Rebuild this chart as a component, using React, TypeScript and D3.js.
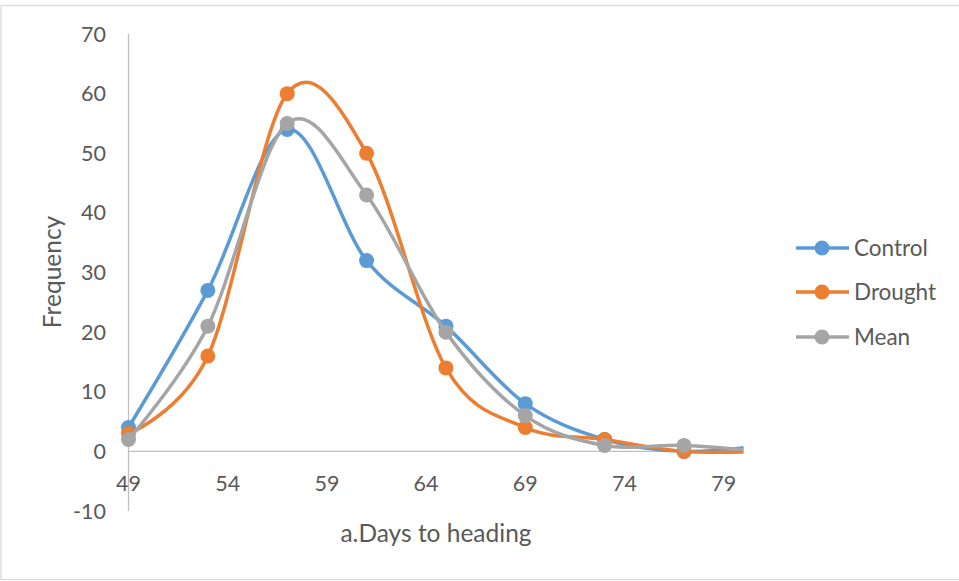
import React from "react";
import * as d3 from "d3";

// Days to heading (class midpoints) and frequencies per treatment
const days = [49, 53, 57, 61, 65, 69, 73, 77, 81];
const control = [4, 27, 54, 32, 21, 8, 2, 0, 1];
const drought = [3, 16, 60, 50, 14, 4, 2, 0, 0];
const mean = [2, 21, 55, 43, 20, 6, 1, 1, 0];

const xTicks = [49, 54, 59, 64, 69, 74, 79];
const yTicks = [-10, 0, 10, 20, 30, 40, 50, 60, 70];

const seriesNames = ["Control", "Drought", "Mean"];
const seriesColors = ["#5B9BD5", "#ED7D31", "#A5A5A5"];

const W = 959;
const H = 581;
const FONT = "Lato, 'Open Sans', sans-serif";
const TEXT = "#595959";

export default function App() {
  const x = d3.scaleLinear().domain([49, 80]).range([128.5, 743.5]);
  const y = d3.scaleLinear().domain([-10, 70]).range([511, 34]);

  const line = d3
    .line<[number, number]>()
    .x((d) => x(d[0]))
    .y((d) => y(d[1]))
    .curve(d3.curveCardinal.tension(0));

  const series = [control, drought, mean].map((vals, i) => ({
    name: seriesNames[i],
    color: seriesColors[i],
    pts: days.map((d, j) => [d, vals[j]] as [number, number]),
  }));

  const legendY = [248, 292, 337];

  return (
    <svg
      width={W}
      height={H}
      style={{ position: "absolute", left: 0, top: 0, background: "#fff" }}
      fontFamily={FONT}
    >
      <defs>
        <clipPath id="plot-clip">
          <rect x={x(49) - 10} y={0} width={x(80) - x(49) + 10} height={H} />
        </clipPath>
      </defs>
      <rect x={1} y={5.5} width={W + 5} height={574} fill="#fff" stroke="#D9D9D9" strokeWidth={1.3} />

      {/* axes */}
      <line x1={x(49)} x2={x(49)} y1={y(70)} y2={y(-10)} stroke="#BFBFBF" strokeWidth={1.3} />
      <line x1={x(49)} x2={x(80)} y1={y(0)} y2={y(0)} stroke="#BFBFBF" strokeWidth={1.3} />

      {yTicks.map((t) => (
        <text key={t} x={106} y={y(t)} dy="0.35em" textAnchor="end" fontSize={21.5} fill={TEXT}>
          {t}
        </text>
      ))}
      {xTicks.map((t) => (
        <text key={t} x={x(t)} y={483} dy="0.35em" textAnchor="middle" fontSize={21.5} fill={TEXT}>
          {t}
        </text>
      ))}

      <text x={436} y={533} dy="0.35em" textAnchor="middle" fontSize={24.5} fill={TEXT}>
        a.Days to heading
      </text>
      <text
        transform={`translate(52,272) rotate(-90)`}
        dy="0.35em"
        textAnchor="middle"
        fontSize={24.5}
        fill={TEXT}
      >
        Frequency
      </text>

      {/* series */}
      <g clipPath="url(#plot-clip)">
        {series.map((s) => (
          <g key={s.name}>
            <path d={line(s.pts) || ""} fill="none" stroke={s.color} strokeWidth={3.5} strokeLinejoin="round" />
            {s.pts.map((p, j) => (
              <circle key={j} cx={x(p[0])} cy={y(p[1])} r={7.5} fill={s.color} />
            ))}
          </g>
        ))}
      </g>

      {/* legend */}
      {series.map((s, i) => (
        <g key={s.name} transform={`translate(0,${legendY[i]})`}>
          <line x1={796} x2={849} y1={0} y2={0} stroke={s.color} strokeWidth={3.5} />
          <circle cx={822} cy={0} r={7.5} fill={s.color} />
          <text x={854} y={0} dy="0.35em" fontSize={22.5} fill={TEXT}>
            {s.name}
          </text>
        </g>
      ))}
    </svg>
  );
}
